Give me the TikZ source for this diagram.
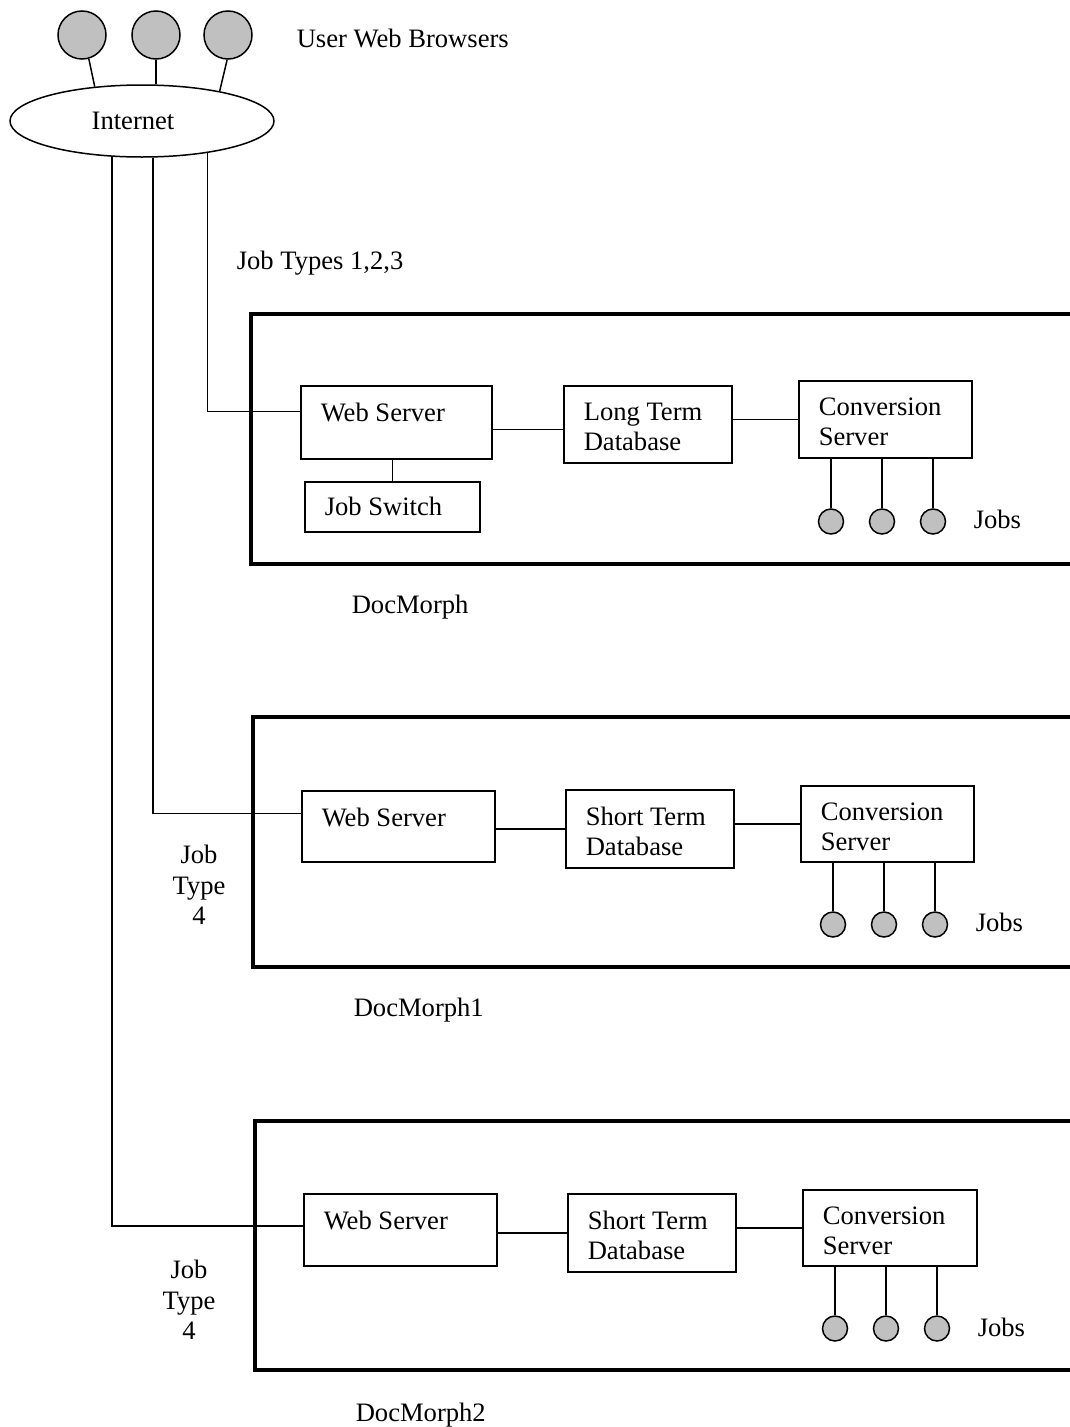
\documentclass[tikz,border=0pt]{standalone}
\usepackage{fontspec}
\setmainfont{Liberation Serif}
\usetikzlibrary{positioning,shapes.geometric}
\definecolor{ballgray}{RGB}{192,192,192}

\begin{document}
\begin{tikzpicture}[x=1pt, y=-1pt, line width=1.5pt,
  every node/.style = {font=\fontsize{26.6}{30.5}\selectfont, inner sep=0pt},
  srv/.style = {shape=rectangle, draw, anchor=north west},
  srvtext/.style = {align=left, below right=17pt and 20pt of #1.north west},
  ball/.style = {shape=circle, draw, fill=ballgray},
  frame/.style = {line width=3.5pt}]
  \useasboundingbox (0,0) rectangle (1070,1427);

  % browsers and the internet
  \node[ball, minimum size=48pt] (b1) at (82,35) {};
  \node[ball, minimum size=48pt] (b2) at (156,35) {};
  \node[ball, minimum size=48pt] (b3) at (228,35) {};
  \node[anchor=west] (users) at (296,38) {User Web Browsers};
  \node[shape=ellipse, draw, minimum width=264pt, minimum height=72pt] (inet) at (142,121) {};
  \node (inettext) at (133,121) {Internet};
  \draw (b1.-74) -- (inet.144);
  \draw (b2.south) -- (b2.south |- inet.north);
  \draw (b3.-92) -- (inet.21);
  \node[anchor=west] (types123) at (236,263) {Job Types 1,2,3};

  % DocMorph
  \draw[frame] (1070,314) -| (251,564) -- (1070,564);
  \node[srv, minimum width=191pt, minimum height=73pt] (ws1) at (300,385) {};
  \node[srvtext=ws1] (ws1text) {Web Server};
  \node[srv, minimum width=175pt, minimum height=50pt] (js1) at (304,481) {};
  \node[below right=15pt and 20pt of js1.north west] (js1text) {Job Switch};
  \node[srv, minimum width=168pt, minimum height=77pt] (ltdb) at (563,385) {};
  \node[srvtext=ltdb] (ltdbtext) {Long Term\\Database};
  \node[srv, minimum width=173pt, minimum height=77pt] (cs1) at (798,380) {};
  \node[srvtext=cs1] (cs1text) {Conversion\\Server};
  \draw ([yshift=-7pt]ws1.east) -- ([yshift=-7pt]ws1.east -| ltdb.west);
  \draw (cs1.west) -- (cs1.west -| ltdb.east);
  \draw (js1.north) -- (js1.north |- ws1.south);
  \foreach \n/\dx in {1/33,2/84,3/135} {
    \node[ball, minimum size=25pt] (job1\n) at ([shift={(\dx pt,-63pt)}]cs1.south west) {};
    \draw (job1\n) -- (job1\n |- cs1.south);
  }
  \node[anchor=west] (jobs1) at (973,519) {Jobs};
  \node[anchor=west] (dm) at (351,607) {DocMorph};
  \draw ([yshift=11pt]ws1.west) -| (inet.-26);

  % DocMorph1
  \draw[frame] (1070,717) -| (253,967) -- (1070,967);
  \node[srv, minimum width=193pt, minimum height=71pt] (ws2) at (301,790) {};
  \node[srvtext=ws2] (ws2text) {Web Server};
  \node[srv, minimum width=168pt, minimum height=78pt] (std2) at (565,789) {};
  \node[srvtext=std2] (std2text) {Short Term\\Database};
  \node[srv, minimum width=173pt, minimum height=76pt] (cs2) at (800,785) {};
  \node[srvtext=cs2] (cs2text) {Conversion\\Server};
  \draw (std2.west) -- (std2.west -| ws2.east);
  \draw (cs2.west) -- (cs2.west -| std2.east);
  \foreach \n/\dx in {1/33,2/84,3/135} {
    \node[ball, minimum size=25pt] (job2\n) at ([shift={(\dx pt,-62pt)}]cs2.south west) {};
    \draw (job2\n) -- (job2\n |- cs2.south);
  }
  \node[anchor=west] (jobs2) at (975,922) {Jobs};
  \node[anchor=west] (dm1) at (353,1010) {DocMorph1};
  \node[align=center] (type4a) at (199,885) {Job\\Type\\4};
  \draw ([yshift=13pt]ws2.west) -| (inet.-73);

  % DocMorph2
  \draw[frame] (1070,1121) -| (255,1370) -- (1070,1370);
  \node[srv, minimum width=193pt, minimum height=72pt] (ws3) at (303,1193) {};
  \node[srvtext=ws3] (ws3text) {Web Server};
  \node[srv, minimum width=168pt, minimum height=78pt] (std3) at (567,1193) {};
  \node[srvtext=std3] (std3text) {Short Term\\Database};
  \node[srv, minimum width=174pt, minimum height=76pt] (cs3) at (802,1189) {};
  \node[srvtext=cs3] (cs3text) {Conversion\\Server};
  \draw (std3.west) -- (std3.west -| ws3.east);
  \draw (cs3.west) -- (cs3.west -| std3.east);
  \foreach \n/\dx in {1/33,2/84,3/135} {
    \node[ball, minimum size=25pt] (job3\n) at ([shift={(\dx pt,-62pt)}]cs3.south west) {};
    \draw (job3\n) -- (job3\n |- cs3.south);
  }
  \node[anchor=west] (jobs3) at (977,1327) {Jobs};
  \node[anchor=west] (dm2) at (355,1415) {DocMorph2};
  \node[align=center] (type4b) at (189,1300) {Job\\Type\\4};
  \draw ([yshift=4pt]ws3.west) -| (inet.-130);
\end{tikzpicture}
\end{document}
